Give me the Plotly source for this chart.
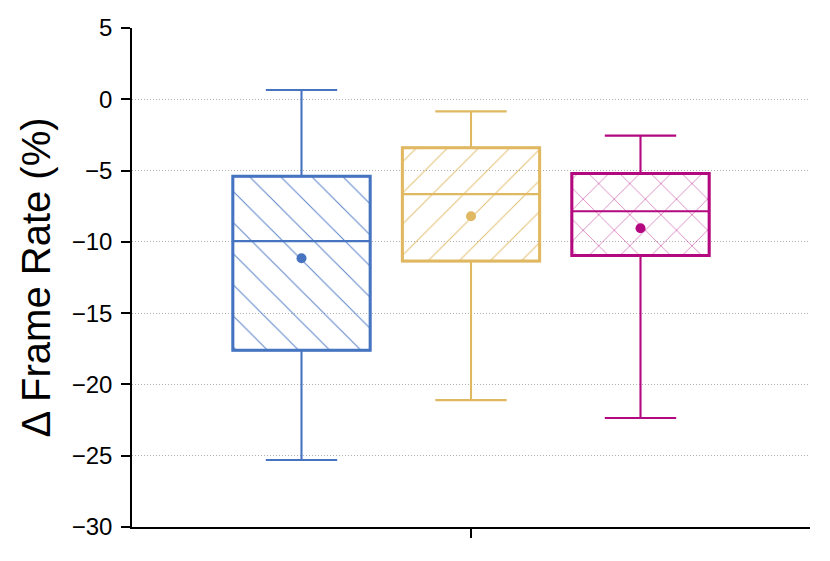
import plotly.graph_objects as go

# box statistics (percent change in frame rate)
groups = ['A', 'B', 'C']
positions = [0, 1, 2]
q1 = [-17.6, -11.35, -10.95]
median = [-9.95, -6.65, -7.85]
q3 = [-5.4, -3.4, -5.2]
lowerfence = [-25.3, -21.1, -22.35]
upperfence = [0.65, -0.85, -2.55]
means = [-11.15, -8.2, -9.05]
yticks = [5, 0, -5, -10, -15, -20, -25, -30]

colors = ['#4674C1', '#E0B862', '#B3087F']
hatches = ['\\', '/', 'x']

box_w = 0.81

fig = go.Figure()

# hatched box bodies, drawn as bars spanning q1..q3
for i in range(3):
    fig.add_trace(go.Bar(
        x=[positions[i]],
        base=[q1[i]],
        y=[q3[i] - q1[i]],
        width=box_w,
        marker=dict(
            color='rgba(0,0,0,0)',
            line=dict(color=colors[i], width=3),
            pattern=dict(shape=hatches[i], fgcolor=colors[i], fgopacity=0.9,
                         size=22, solidity=0.045)),
        showlegend=False,
        hoverinfo='skip'))

# whiskers and median lines
for i in range(3):
    fig.add_trace(go.Box(
        x=[positions[i]],
        q1=[q1[i]], median=[median[i]], q3=[q3[i]],
        lowerfence=[lowerfence[i]], upperfence=[upperfence[i]],
        width=box_w,
        whiskerwidth=0.52,
        fillcolor='rgba(0,0,0,0)',
        line=dict(color=colors[i], width=2.1),
        name=groups[i],
        showlegend=False))

# mean markers
for i in range(3):
    fig.add_trace(go.Scatter(
        x=[positions[i]], y=[means[i]],
        mode='markers',
        marker=dict(color=colors[i], size=10),
        showlegend=False))

# page body has an 8px margin, so the figure is a bit smaller than the window
fig.update_layout(
    width=822, height=553,
    margin=dict(l=124, r=20, t=20, b=34, autoexpand=False),
    plot_bgcolor='white', paper_bgcolor='white',
    font=dict(family='Liberation Sans, Arial, sans-serif', color='black'),
    barmode='overlay',
    xaxis=dict(range=[-1, 3], showgrid=False, zeroline=False, automargin=False,
               showline=True, linecolor='black', linewidth=1.5,
               tickvals=[1], ticktext=[''], ticks='outside',
               ticklen=9, tickwidth=1.5, tickcolor='black'),
    yaxis=dict(range=[-30, 5], tickvals=yticks, zeroline=False, automargin=False,
               showline=True, linecolor='black', linewidth=1.5,
               ticks='outside', ticklen=9, tickwidth=1.5, tickcolor='black',
               ticklabelstandoff=4,
               showgrid=True, gridcolor='#b0b0b0', gridwidth=1,
               griddash='1px,2px',
               tickfont=dict(size=24),
               title=dict(text='\u0394 Frame Rate (%)', font=dict(size=40),
                          standoff=9)),
)

fig.write_html('out.html')
